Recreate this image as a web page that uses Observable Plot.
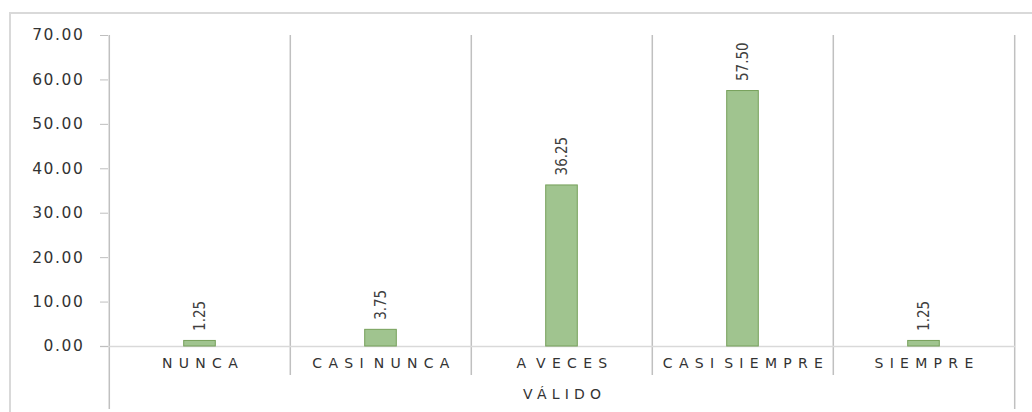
<!DOCTYPE html>
<html>
<head>
<meta charset="utf-8">
<script src="https://cdn.jsdelivr.net/npm/d3@7"></script>
<script src="https://cdn.jsdelivr.net/npm/@observablehq/plot@0.6"></script>
<style>
  html, body { margin: 0; padding: 0; background: #fff; }
  #wrap { position: relative; width: 1032px; height: 412px; overflow: hidden; }
  #frame { position: absolute; left: 9px; top: 12px; width: 1100px; height: 500px;
           border-top: 2px solid #d9d9d9; border-left: 2px solid #d9d9d9; }
  #chart { position: absolute; left: 0; top: 0; }
</style>
</head>
<body>
<div id="wrap"><div id="frame"></div><div id="chart"></div></div>
<script>
const categories = ["NUNCA", "CASI NUNCA", "A VECES", "CASI SIEMPRE", "SIEMPRE"];
const values = [1.25, 3.75, 36.25, 57.50, 1.25];
const yTicks = [0, 10, 20, 30, 40, 50, 60, 70];
const groupLabel = "VÁLIDO";

const data = categories.map((c, i) => ({cat: c, v: values[i]}));

const W = 1032, H = 412, mL = 108, mR = 17, mT = 35, mB = 66;
const step = (W - mL - mR) / categories.length;
const barW = 32;
const inset = (step - barW) / 2;
const fmt = d3.format(".2f");

const chart = Plot.plot({
  width: W,
  height: H,
  marginLeft: mL,
  marginRight: mR,
  marginTop: mT,
  marginBottom: mB,
  style: {background: "transparent", overflow: "visible"},
  x: {type: "band", domain: categories, padding: 0},
  y: {domain: [0, 70]},
  marks: [
    Plot.ruleX(categories.slice(1), {x: d => d, dx: -step / 2, stroke: "#c0c0c0", strokeWidth: 1.5, insetBottom: -29}),
    Plot.ruleX([categories[0]], {x: d => d, dx: -step / 2, stroke: "#c0c0c0", strokeWidth: 1.5, insetBottom: -63}),
    Plot.ruleX([categories[categories.length - 1]], {x: d => d, dx: step / 2, stroke: "#c0c0c0", strokeWidth: 1.5, insetBottom: -63}),
    Plot.ruleY([0], {stroke: "#d9d9d9", strokeWidth: 1.5, insetLeft: -8}),
    Plot.barY(data, {x: "cat", y: "v", fill: "#a0c48f", stroke: "#76a05a", strokeWidth: 1, insetLeft: inset, insetRight: inset}),
    Plot.text(data, {
      x: "cat", y: "v", text: d => fmt(d.v), rotate: -90, textAnchor: "start", dy: -10,
      fontSize: 15, fontFamily: "'Liberation Sans Narrow', 'DejaVu Sans Condensed', sans-serif",
      fontStretch: "condensed", fill: "#404040"
    }),
    Plot.axisY({
      ticks: yTicks, tickFormat: fmt, tickSize: 8, tickPadding: 16,
      stroke: "#bfbfbf", fill: "#333333", fontSize: 16, fontFamily: "DejaVu Sans, sans-serif",
      label: null
    }),
    Plot.axisX({
      tickSize: 0, tickPadding: 12, fill: "#333333", fontSize: 14,
      fontFamily: "DejaVu Sans, sans-serif", label: null
    }),
    Plot.text([groupLabel], {
      frameAnchor: "bottom", dy: 52, text: d => d, fill: "#333333", fontSize: 14,
      fontFamily: "DejaVu Sans, sans-serif"
    })
  ]
});

d3.select(chart).selectAll("g[aria-label='y-axis tick label'] text")
  .style("font-size", "15.5px").style("font-family", "DejaVu Sans, sans-serif").style("letter-spacing", "1.6px");
d3.select(chart).selectAll("g[aria-label='x-axis tick label'] text")
  .style("font-size", "14px").style("font-family", "DejaVu Sans, sans-serif")
  .style("letter-spacing", "6.3px").style("word-spacing", "-7px").attr("dx", 3);
d3.select(chart).selectAll("g[aria-label='text'] text").filter(function() { return this.textContent === groupLabel; })
  .style("font-size", "14px").style("letter-spacing", "5.2px").attr("dx", 2.6);

document.getElementById("chart").appendChild(chart);
</script>
</body>
</html>
